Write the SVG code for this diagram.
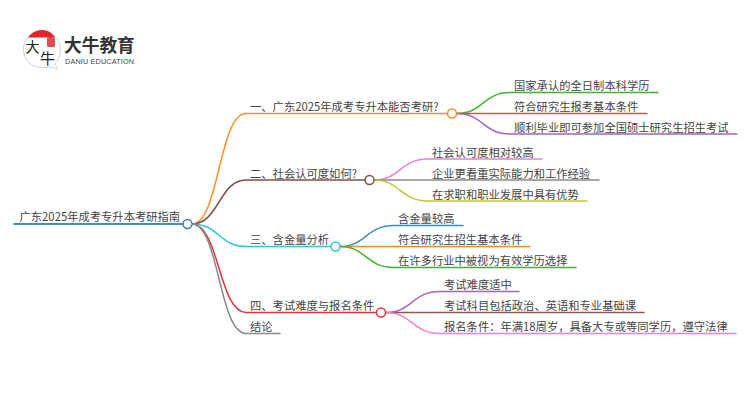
<svg xmlns="http://www.w3.org/2000/svg" width="750" height="410" viewBox="0 0 750 410">
<style>
text{font-family:"Noto Sans CJK SC","Noto Sans",sans-serif;font-size:11.3px;fill:#444}
.c{fill:none;stroke-width:1.5;stroke-linecap:round}
.n{fill:#fff;stroke-width:1.5}
</style>
<rect width="750" height="410" fill="#fff"/>
<g id="logo">
<path d="M42 31C31.500 31 23.500 39.500 23.500 49.500C23.500 60 31.500 67.500 42 67.500C46 67.500 49 66.500 51 67.500L57.500 68.500L55 64C58.500 60.500 60.500 55.500 60.500 49.500C60.500 39.500 52.500 31 42 31Z" fill="#fff" stroke="#c8c8c8" stroke-width="0.8"/>
<path d="M28 37.500C31 33 36 30 42 30C48 30 52.500 33 55 37.500Z" fill="#e3262b"/>
<rect x="47" y="37" width="8" height="10" rx="1.500" fill="#dc5055"/>
<text x="25.500" y="52" style="font-size:14px;fill:#222">大</text>
<text x="40" y="64" style="font-size:15px;fill:#222">牛</text>
<text x="64" y="52" style="font-size:17.700px;font-weight:700;fill:#333">大牛教育</text>
<text x="65" y="63.500" style="font-family:'Liberation Sans',sans-serif;font-size:7.300px;fill:#444" textLength="69">DANIU EDUCATION</text>
</g>
<g id="connectors">
<path class="c" d="M192 224C219 224 219 113.500 246 113.500L447 113.500" stroke="#ff8e29"/>
<path class="c" d="M192 224C219 224 219 180 246 180L365 180" stroke="#7e5246"/>
<path class="c" d="M192 224C219 224 219 246.500 246 246.500L331 246.500" stroke="#2ec7d8"/>
<path class="c" d="M192 224C219 224 219 312.500 246 312.500L376 312.500" stroke="#e3353b"/>
<path class="c" d="M192 224C219 224 219 333.500 246 333.500L280 333.500" stroke="#8a8a8a"/>
<path class="c" d="M457 113.500C483 113.500 483 92.500 510 92.500L658 92.500" stroke="#44b035"/>
<path class="c" d="M457 113.500L647 113.500" stroke="#e5464f"/>
<path class="c" d="M457 113.500C483 113.500 483 134 510 134L737 134" stroke="#9a66c9"/>
<path class="c" d="M374 180C400 180 400 159 428 159L542 159" stroke="#ef7fd0"/>
<path class="c" d="M374 180L599 180" stroke="#8a8a8a"/>
<path class="c" d="M374 180C400 180 400 201 428 201L587 201" stroke="#c4c238"/>
<path class="c" d="M340 246.500C366 246.500 366 225.500 394 225.500L463 225.500" stroke="#3c8cc4"/>
<path class="c" d="M340 246.500L530 246.500" stroke="#ff8e29"/>
<path class="c" d="M340 246.500C366 246.500 366 267.500 394 267.500L576 267.500" stroke="#44b035"/>
<path class="c" d="M386 312.500C412 312.500 412 291.500 440 291.500L519 291.500" stroke="#9a66c9"/>
<path class="c" d="M386 312.500L644 312.500" stroke="#8e5a50"/>
<path class="c" d="M386 312.500C412 312.500 412 333.500 440 333.500L736 333.500" stroke="#ef7fd0"/>
</g>
<g id="root"><path d="M13.500 224H183" stroke="#3c8cc4" stroke-width="2" fill="none"/><text x="19.500" y="221">广东2025年成考专升本考研指南</text><circle class="n" cx="187.500" cy="224" r="4.500" stroke="#3c7fb8"/></g>
<g id="n1"><text x="250" y="111">一、广东2025年成考专升本能否考研?</text><circle class="n" cx="452" cy="113.500" r="4.500" stroke="#ff8e29"/></g>
<g id="n2"><text x="250" y="177.500">二、社会认可度如何?</text><circle class="n" cx="369.500" cy="180" r="4.500" stroke="#7e5246"/></g>
<g id="n3"><text x="250" y="244">三、含金量分析</text><circle class="n" cx="335.500" cy="246.500" r="4.500" stroke="#2ec7d8"/></g>
<g id="n4"><text x="250" y="310">四、考试难度与报名条件</text><circle class="n" cx="381" cy="312.500" r="4.500" stroke="#e3353b"/></g>
<g id="n5"><text x="250" y="331">结论</text></g>
<g id="n11"><text x="514" y="90">国家承认的全日制本科学历</text></g>
<g id="n12"><text x="514" y="111">符合研究生报考基本条件</text></g>
<g id="n13"><text x="514" y="131.500">顺利毕业即可参加全国硕士研究生招生考试</text></g>
<g id="n21"><text x="432" y="156.500">社会认可度相对较高</text></g>
<g id="n22"><text x="432" y="177.500">企业更看重实际能力和工作经验</text></g>
<g id="n23"><text x="432" y="198.500">在求职和职业发展中具有优势</text></g>
<g id="n31"><text x="398" y="223">含金量较高</text></g>
<g id="n32"><text x="398" y="244">符合研究生招生基本条件</text></g>
<g id="n33"><text x="398" y="265">在许多行业中被视为有效学历选择</text></g>
<g id="n41"><text x="444" y="289">考试难度适中</text></g>
<g id="n42"><text x="444" y="310">考试科目包括政治、英语和专业基础课</text></g>
<g id="n43"><text x="444" y="331">报名条件：年满18周岁，具备大专或等同学历，遵守法律</text></g>
</svg>
